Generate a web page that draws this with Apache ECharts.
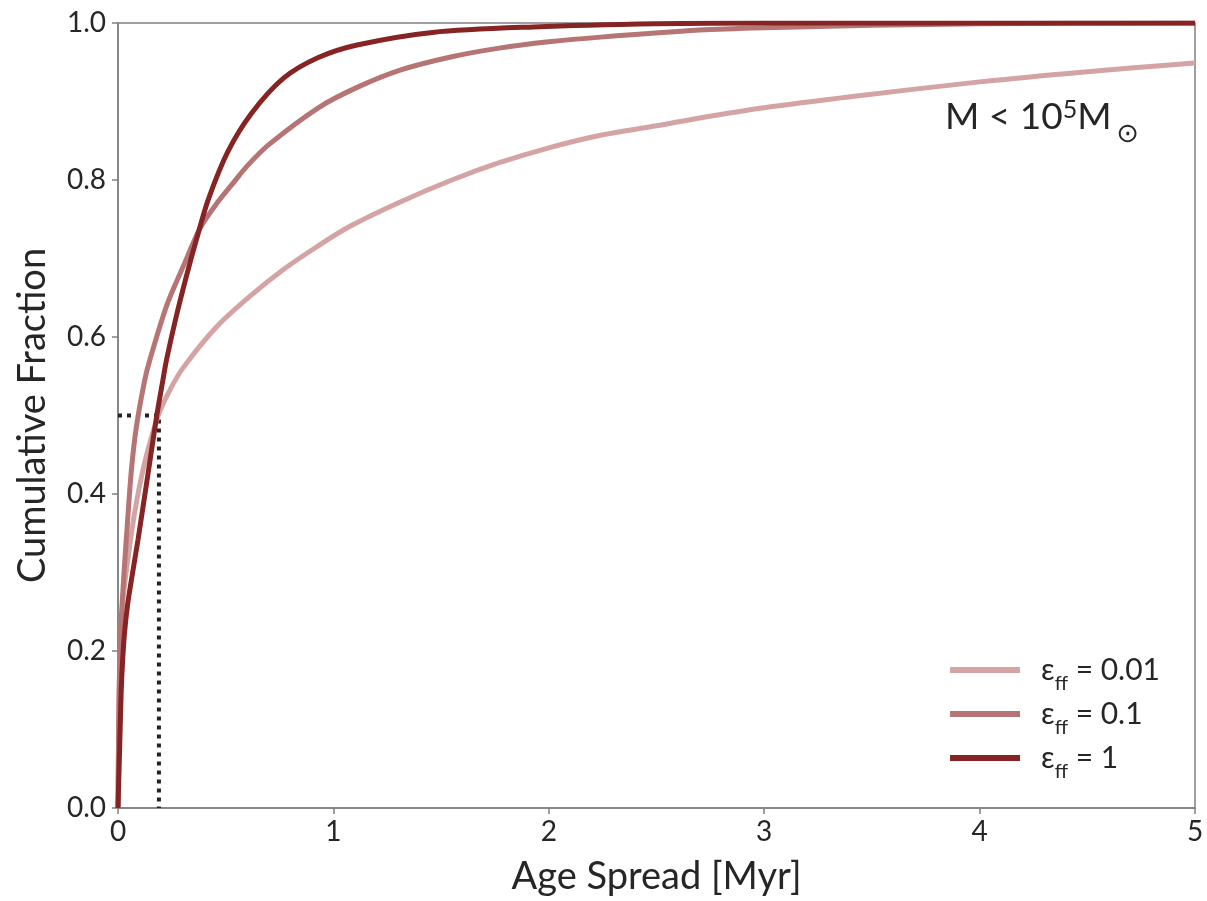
<!DOCTYPE html>
<html>
<head>
<meta charset="utf-8">
<script src="https://cdn.jsdelivr.net/npm/echarts@6/dist/echarts.min.js"></script>
<style>html,body{margin:0;padding:0;background:#fff}#c{width:1207px;height:901px}</style>
</head>
<body>
<div id="c"></div>
<script>
// ---- data ----
const xTicks = [0, 1, 2, 3, 4, 5];
const yTicks = [0.0, 0.2, 0.4, 0.6, 0.8, 1.0];
const seriesNames = ['0.01', '0.1', '1'];

const light_x = [0, 0.003, 0.008, 0.015, 0.023, 0.046, 0.077, 0.124, 0.187, 0.24, 0.303, 0.458, 0.613, 0.768, 0.923, 1.077, 1.31, 1.55, 1.77, 2.0, 2.24, 2.5, 2.7, 3.0, 3.4, 4.0, 4.5, 5.0];
const light_y = [0, 0.10, 0.18, 0.23, 0.266, 0.317, 0.376, 0.44, 0.50, 0.532, 0.561, 0.613, 0.652, 0.686, 0.715, 0.741, 0.772, 0.800, 0.822, 0.841, 0.857, 0.869, 0.879, 0.892, 0.906, 0.925, 0.938, 0.949];

const mid_x = [0, 0.003, 0.006, 0.01, 0.015, 0.028, 0.043, 0.062, 0.085, 0.124, 0.149, 0.226, 0.303, 0.38, 0.458, 0.54, 0.6, 0.7, 0.93, 1.11, 1.31, 1.55, 1.77, 2.0, 2.24, 2.7, 3.0, 3.5, 4.0, 5.0];
const mid_y = [0, 0.10, 0.16, 0.21, 0.24, 0.30, 0.36, 0.43, 0.485, 0.545, 0.572, 0.64, 0.69, 0.738, 0.77, 0.798, 0.818, 0.845, 0.892, 0.918, 0.94, 0.957, 0.968, 0.976, 0.982, 0.991, 0.994, 0.997, 0.999, 1.0];

const dark_x = [0, 0.008, 0.015, 0.022, 0.031, 0.045, 0.062, 0.093, 0.139, 0.18, 0.209, 0.226, 0.272, 0.318, 0.365, 0.419, 0.51, 0.62, 0.77, 0.93, 1.11, 1.46, 1.93, 2.5, 3.0, 5.0];
const dark_y = [0, 0.08, 0.15, 0.19, 0.225, 0.26, 0.29, 0.342, 0.425, 0.50, 0.546, 0.572, 0.628, 0.678, 0.725, 0.775, 0.836, 0.885, 0.930, 0.956, 0.972, 0.988, 0.995, 0.999, 1.0, 1.0];

const median_x = [0, 0.19, 0.19];
const median_y = [0.5, 0.5, 0];

// ---- build ----
const pairs = (xs, ys) => xs.map((x, i) => [x, ys[i]]);
const colors = ['#d4a4a4', '#b67474', '#862323'];
const FONT = 'Lato';
const TXT = '#262626';

const chart = echarts.init(document.getElementById('c'), null, {renderer: 'canvas'});
const lineSeries = (name, data, color) => ({
  name: name, type: 'line', data: data, showSymbol: false, symbol: 'none',
  smooth: 0.3,
  lineStyle: {color: color, width: 5}, itemStyle: {color: color},
  emphasis: {disabled: true}, animation: false
});

chart.setOption({
  animation: false,
  grid: {left: 118, right: 12, top: 23, bottom: 92, show: true, borderColor: '#808080', borderWidth: 1.5, backgroundColor: 'transparent'},
  xAxis: {
    type: 'value', min: 0, max: 5, interval: 1,
    name: 'Age Spread [Myr]', nameLocation: 'middle', nameGap: 50,
    nameTextStyle: {fontFamily: FONT, fontSize: 38, color: TXT},
    axisLine: {show: true, lineStyle: {color: '#808080', width: 1.5}},
    axisTick: {show: true, length: 6, lineStyle: {color: '#808080', width: 1.5}},
    axisLabel: {fontFamily: FONT, fontSize: 28, color: TXT, margin: 10,
      formatter: v => xTicks.includes(v) ? String(v) : ''},
    splitLine: {show: false}
  },
  yAxis: {
    type: 'value', min: 0, max: 1, interval: 0.2,
    name: 'Cumulative Fraction', nameLocation: 'middle', nameGap: 66,
    nameTextStyle: {fontFamily: FONT, fontSize: 38, color: TXT},
    axisLine: {show: true, lineStyle: {color: '#808080', width: 1.5}},
    axisTick: {show: true, length: 6, lineStyle: {color: '#808080', width: 1.5}},
    axisLabel: {fontFamily: FONT, fontSize: 28, color: TXT, margin: 12,
      formatter: v => { const t = yTicks.find(t => Math.abs(t - v) < 1e-9); return t === undefined ? '' : t.toFixed(1); }},
    splitLine: {show: false}
  },
  legend: {
    right: 42, bottom: 114, orient: 'vertical', itemGap: 5,
    itemWidth: 70, itemHeight: 6, icon: 'rect',
    data: seriesNames.map(n => 'eps' + n),
    formatter: name => '{e|ε}{s|ff}{t| = ' + name.slice(3) + '}',
    textStyle: {
      color: TXT, fontFamily: FONT, padding: [0, 0, 0, 16],
      rich: {
        e: {fontFamily: FONT, fontSize: 30, color: TXT, lineHeight: 36},
        s: {fontFamily: FONT, fontSize: 20, color: TXT, lineHeight: 36, verticalAlign: 'bottom', padding: [0, 0, -6, 0]},
        t: {fontFamily: FONT, fontSize: 30, color: TXT, lineHeight: 36}
      }
    }
  },
  graphic: [{
    type: 'text', left: 945, top: 94, silent: true,
    style: {
      text: '{m|M < 10}{sup|5}{m|M}{sun|⊙}',
      rich: {
        m: {fontFamily: FONT, fontSize: 37, fill: TXT, lineHeight: 46},
        sup: {fontFamily: FONT, fontSize: 25, fill: TXT, lineHeight: 46, verticalAlign: 'top', padding: [3, 0, 0, 0]},
        sun: {fontFamily: 'DejaVu Sans', fontSize: 27, fill: TXT, lineHeight: 46, verticalAlign: 'bottom', padding: [0, 0, -8, 5]}
      }
    }
  }],
  series: [
    {name: 'median', type: 'line', data: pairs(median_x, median_y), showSymbol: false, symbol: 'none',
     lineStyle: {color: '#222', width: 4, type: [4, 5], cap: 'butt'}, z: 1, silent: true},
    lineSeries('eps' + seriesNames[0], pairs(light_x, light_y), colors[0]),
    lineSeries('eps' + seriesNames[1], pairs(mid_x, mid_y), colors[1]),
    lineSeries('eps' + seriesNames[2], pairs(dark_x, dark_y), colors[2])
  ]
});
</script>
</body>
</html>
